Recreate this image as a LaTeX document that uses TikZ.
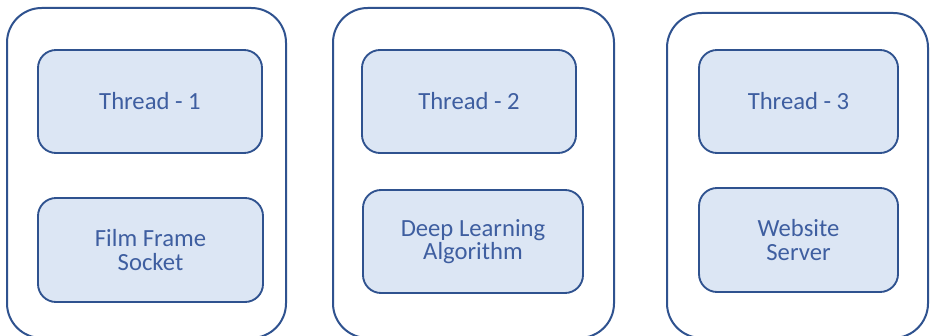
\documentclass[tikz,border=0pt]{standalone}
\usepackage{fontspec}
\setmainfont{Carlito}
\usetikzlibrary{positioning}
\definecolor{threadedge}{RGB}{47,82,143}
\definecolor{threadfill}{RGB}{220,230,244}
\definecolor{threadtext}{RGB}{62,94,160}
\begin{document}
\begin{tikzpicture}[
  x=0.75pt,y=-0.75pt,
  font=\fontsize{18.5}{17.5}\selectfont,
  panel/.style={rounded corners=26pt,draw=threadedge,fill=white,line width=1.5pt},
  taskbox/.style={rounded corners=13.5pt,draw=threadedge,fill=threadfill,line width=1.4pt,
    align=center,text=threadtext,inner sep=2pt}
]
\useasboundingbox[fill=white] (0,0) rectangle (930,335);

% -------------------------------------------------------------------------
% three thread panels
% -------------------------------------------------------------------------
\node[panel,minimum width=209.25pt,minimum height=247.5pt] (panelA) at (146.5,173) {};
\node[panel,minimum width=210.75pt,minimum height=247.5pt] (panelB) at (473.5,173) {};
\node[panel,minimum width=195.75pt,minimum height=243.75pt] (panelC) at (797.5,175.5) {};

\node[taskbox,minimum width=168pt,minimum height=77.25pt] (thrA) at (150,101.5) {Thread - 1};
\node[taskbox,minimum width=168.75pt,minimum height=78pt] (jobA) at (150.5,250)
  {Film Frame\\Socket};

\node[taskbox,minimum width=160.5pt,minimum height=77.25pt] (thrB) at (469,101.5) {Thread - 2};
\node[taskbox,minimum width=165pt,minimum height=77.25pt] (jobB) at (473,241.5)
  {Deep Learning\\Algorithm};

\node[taskbox,minimum width=149.25pt,minimum height=77.25pt] (thrC) at (798.5,101.5) {Thread - 3};
\node[taskbox,minimum width=149.25pt,minimum height=78pt] (jobC) at (798.5,240)
  {Website\\Server};
\end{tikzpicture}
\end{document}
